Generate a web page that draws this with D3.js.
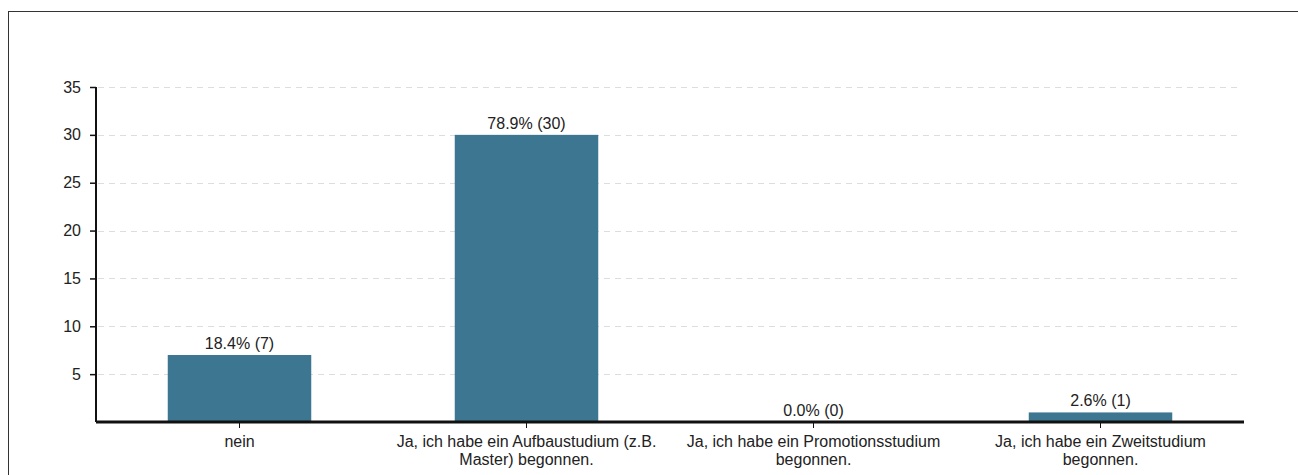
<!DOCTYPE html>
<html>
<head>
<meta charset="utf-8">
<script src="https://cdn.jsdelivr.net/npm/d3@7"></script>
<style>
  body { margin: 0; background: #fff; }
  svg { display: block; font-family: "Liberation Sans", Arial, sans-serif; }
</style>
</head>
<body>
<div id="chart-container"></div>
<script>
// Chart data
const categories = [
  "nein",
  "Ja, ich habe ein Aufbaustudium (z.B. Master) begonnen.",
  "Ja, ich habe ein Promotionsstudium begonnen.",
  "Ja, ich habe ein Zweitstudium begonnen."
];
const counts = [7, 30, 0, 1];
const percents = ["18.4%", "78.9%", "0.0%", "2.6%"];
const yTicks = [5, 10, 15, 20, 25, 30, 35];

// Dimensions
const width = 1298;
const height = 475;
const marginTop = 87;
const marginLeft = 96;
const axisRight = 1244;
const baseline = 422;
const fontSize = 16;

const x = d3.scaleBand()
    .domain(categories)
    .range([marginLeft, axisRight])
    .paddingInner(0.5)
    .paddingOuter(0.25);

const y = d3.scaleLinear()
    .domain([0, 35])
    .range([baseline, marginTop]);

const svg = d3.create("svg")
    .attr("width", width)
    .attr("height", height);

// attach early so text can be measured for wrapping
d3.select("#chart-container").append(() => svg.node());

// outer frame
svg.append("rect")
    .attr("x", 8.5).attr("y", 11.5)
    .attr("width", width + 10).attr("height", height + 10)
    .attr("fill", "none")
    .attr("stroke", "#333");

// dashed gridlines
svg.append("g")
  .selectAll("line")
  .data(yTicks)
  .join("line")
    .attr("x1", marginLeft + 2)
    .attr("x2", 1241)
    .attr("y1", d => Math.round(y(d)) + 0.5)
    .attr("y2", d => Math.round(y(d)) + 0.5)
    .attr("stroke", "#ddd")
    .attr("stroke-dasharray", "6,5");

// bars
svg.append("g")
  .selectAll("rect")
  .data(categories)
  .join("rect")
    .attr("x", d => x(d))
    .attr("y", (d, i) => y(counts[i]))
    .attr("width", x.bandwidth())
    .attr("height", (d, i) => baseline - y(counts[i]))
    .attr("fill", "#3d7690");

// value labels
svg.append("g")
  .selectAll("text")
  .data(categories)
  .join("text")
    .attr("x", d => x(d) + x.bandwidth() / 2)
    .attr("y", (d, i) => y(counts[i]) - 6)
    .attr("text-anchor", "middle")
    .attr("font-size", fontSize)
    .attr("fill", "#222")
    .text((d, i) => `${percents[i]} (${counts[i]})`);

// y axis
const yAxis = svg.append("g")
    .attr("transform", `translate(${marginLeft},0)`)
    .call(d3.axisLeft(y).tickValues(yTicks).tickSize(6).tickPadding(9).tickSizeOuter(0));
yAxis.select(".domain").attr("stroke", "#111").attr("stroke-width", 2)
    .attr("d", `M0,${marginTop}V${baseline}`);
yAxis.selectAll(".tick line").attr("stroke", "#111").attr("stroke-width", 1.5);
yAxis.selectAll(".tick text").attr("font-size", fontSize).attr("fill", "#222")
    .attr("font-family", "Liberation Sans, Arial, sans-serif");

// x axis
const xAxis = svg.append("g")
    .attr("transform", `translate(0,${baseline})`)
    .call(d3.axisBottom(x).tickSize(6).tickSizeOuter(0));
xAxis.select(".domain").attr("stroke", "#111").attr("stroke-width", 3)
    .attr("d", `M${marginLeft},0H${axisRight}`);
xAxis.selectAll(".tick line").attr("stroke", "#111");
xAxis.selectAll(".tick text")
    .attr("font-size", fontSize).attr("fill", "#222")
    .attr("font-family", "Liberation Sans, Arial, sans-serif")
    .attr("y", 25).attr("dy", 0)
    .call(wrap, x.step());

function wrap(texts, maxWidth) {
  texts.each(function() {
    const text = d3.select(this);
    const words = text.text().split(/\s+/);
    const yPos = text.attr("y");
    text.text(null);
    let line = [];
    let lineNo = 0;
    let tspan = text.append("tspan").attr("x", 0).attr("y", yPos);
    for (const w of words) {
      line.push(w);
      tspan.text(line.join(" "));
      if (tspan.node().getComputedTextLength() > maxWidth && line.length > 1) {
        line.pop();
        tspan.text(line.join(" "));
        line = [w];
        lineNo++;
        tspan = text.append("tspan").attr("x", 0).attr("y", yPos)
            .attr("dy", lineNo * 18 + "px").text(w);
      }
    }
  });
}
</script>
</body>
</html>
